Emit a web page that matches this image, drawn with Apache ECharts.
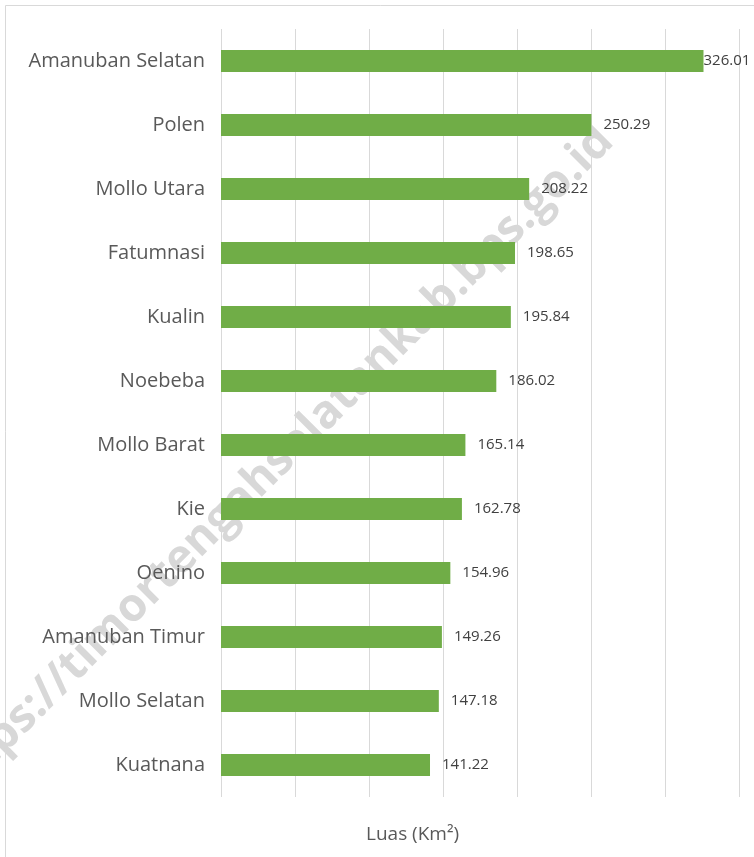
<!DOCTYPE html>
<html>
<head>
<meta charset="utf-8">
<script src="https://cdn.jsdelivr.net/npm/echarts@6/dist/echarts.min.js"></script>
<style>
  html, body { margin: 0; padding: 0; background: #fff; }
  #chart { width: 754px; height: 857px; }
</style>
</head>
<body>
<div id="chart"></div>
<script>
/* luas wilayah per kecamatan */
var kecamatan = ['Amanuban Selatan', 'Polen', 'Mollo Utara', 'Fatumnasi', 'Kualin', 'Noebeba',
    'Mollo Barat', 'Kie', 'Oenino', 'Amanuban Timur', 'Mollo Selatan', 'Kuatnana'];
var luas = [326.01, 250.29, 208.22, 198.65, 195.84, 186.02, 165.14, 162.78, 154.96, 149.26, 147.18, 141.22];
var axisName = 'Luas (Km²)';
var watermark = 'https://timortengahselatankab.bps.go.id';

var initBar = function () {
    var dom = document.getElementById('chart');
    var myChart = echarts.init(dom);
    var maxVal = Math.max.apply(null, luas);
    // label of the longest bar sits right against it (no room on the right)
    var seriesData = luas.map(function (v) {
        return v === maxVal ? { value: v, label: { distance: 0 } } : v;
    });
    var font = '"Open Sans", sans-serif';
    var option = {
        backgroundColor: '#fff',
        animation: false,
        grid: { left: 221, right: 15, top: 29, bottom: 60 },
        xAxis: {
            type: 'value',
            min: 0,
            max: 350,
            interval: 50,
            axisLabel: { show: false },
            axisLine: { show: false },
            axisTick: { show: false },
            splitLine: { lineStyle: { color: '#d9d9d9', width: 1 } }
        },
        yAxis: {
            type: 'category',
            inverse: true,
            data: kecamatan,
            axisLine: { show: false },
            axisTick: { show: false },
            axisLabel: { color: '#595959', fontSize: 20, fontFamily: font, margin: 16 }
        },
        graphic: [
            {
                type: 'rect', z: -10,
                shape: { x: 5.5, y: 5.5, width: 800, height: 900 },
                style: { fill: 'none', stroke: '#d9d9d9', lineWidth: 1 }
            },
            {
                type: 'text', z: -5,
                x: 606, y: 134,
                rotation: Math.PI / 4,
                style: {
                    text: watermark,
                    fill: '#d8d8d8',
                    font: 'bold 46px "Open Sans", sans-serif',
                    textAlign: 'right',
                    textVerticalAlign: 'middle'
                }
            },
            {
                type: 'text',
                left: 366, top: 825,
                style: { text: axisName, fill: '#595959', font: '19px ' + font }
            }
        ],
        series: [{
            type: 'bar',
            data: seriesData,
            barWidth: 22,
            itemStyle: { color: '#70ad47' },
            label: {
                show: true,
                position: 'right',
                distance: 12,
                color: '#404040',
                fontSize: 15,
                fontFamily: font
            }
        }]
    };
    myChart.setOption(option);
};
initBar();
</script>
</body>
</html>
